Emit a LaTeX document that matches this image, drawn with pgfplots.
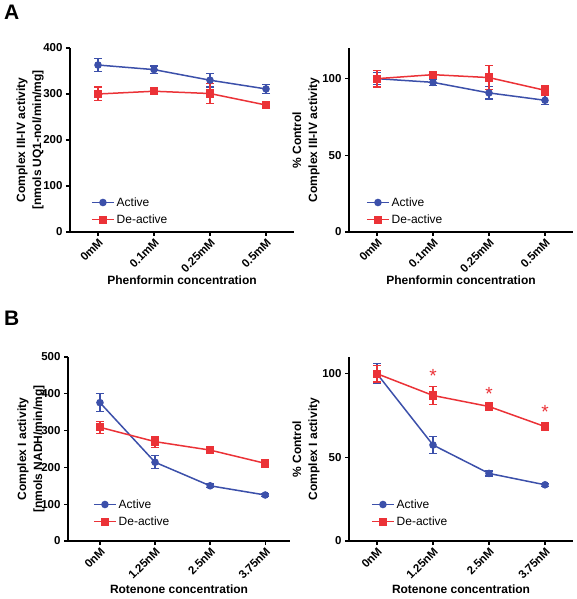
\documentclass[border=0pt]{standalone}
\usepackage{fontspec}
\setmainfont{Liberation Sans}
\usepackage{pgfplots}
\pgfplotsset{compat=1.18}
\definecolor{cblue}{RGB}{60,80,170}
\definecolor{cred}{RGB}{235,50,55}
\pgfplotsset{
  myaxis/.style={
    scale only axis,
    width=224pt, height=184pt,
    axis lines=left,
    axis line style={-, line width=1.3pt},
    xmin=-0.5, xmax=3.5,
    ymin=0,
    xtick={0,1,2,3},
    tick align=outside,
    major tick length=4pt,
    tick style={line width=1.3pt, black},
    /pgf/number format/assume math mode=true,
    ticklabel style={font=\bfseries\fontsize{11.5}{12}\selectfont},
    x tick label style={rotate=45, anchor=north east, inner sep=1pt},
    label style={font=\bfseries\fontsize{12}{16}\selectfont},
    xlabel style={at={(axis description cs:0.5,0)}, anchor=center, yshift=-48pt},
    ylabel style={at={(axis description cs:0,0.5)}, anchor=center, align=center},
    legend style={draw=none, fill=none, font=\fontsize{12}{14}\selectfont,
      at={(axis description cs:0,0)}, anchor=south west, row sep=3pt},
    legend cell align=left,
    legend image code/.code={\draw[mark repeat=2,mark phase=2,##1] plot coordinates {(0pt,0pt) (11pt,0pt) (22pt,0pt)};},
  },
  act/.style={color=cblue, line width=1.5pt, mark=*, mark size=3pt, mark options={solid},
    error bars/.cd, y dir=both, y explicit, error bar style={line width=1.2pt},
    error mark options={rotate=90, line width=1.2pt, mark size=4pt, cblue}},
  deact/.style={color=cred, line width=1.5pt, mark=square*, mark size=3.4pt, mark options={solid},
    error bars/.cd, y dir=both, y explicit, error bar style={line width=1.2pt},
    error mark options={rotate=90, line width=1.2pt, mark size=4pt, cred}},
}
\begin{document}
\begin{tikzpicture}[x=1pt,y=1pt]
\path[use as bounding box] (0,0) rectangle (576,599);
\node[anchor=north west, inner sep=0pt, font=\bfseries\fontsize{21}{21}\selectfont] at (4pt,594pt) {A};
\node[anchor=north west, inner sep=0pt, font=\bfseries\fontsize{21}{21}\selectfont] at (4pt,288pt) {B};

% A left
\begin{axis}[myaxis, at={(70pt,367pt)}, anchor=south west,
  ymax=400, ytick={0,100,200,300,400},
  xticklabels={0mM,0.1mM,0.25mM,0.5mM},
  xlabel={Phenformin concentration},
  ylabel={Complex III-IV activity\\{[}nmols UQ1-nol/min/mg{]}},
  ylabel style={yshift=40pt},
  legend style={xshift=18pt, yshift=3pt}]
\addplot+[act] coordinates {(0,363) +- (0,14) (1,353) +- (0,8) (2,330) +- (0,15) (3,311) +- (0,10)};
\addlegendentry{Active}
\addplot+[deact] coordinates {(0,300) +- (0,15) (1,306) +- (0,6) (2,301) +- (0,22) (3,276) +- (0,8)};
\addlegendentry{De-active}
\end{axis}

% A right
\begin{axis}[myaxis, at={(349pt,367pt)}, anchor=south west,
  ymax=120, ytick={0,50,100},
  xticklabels={0mM,0.1mM,0.25mM,0.5mM},
  xlabel={Phenformin concentration},
  ylabel={\% Control\\Complex III-IV activity},
  ylabel style={yshift=43pt},
  legend style={xshift=14pt, yshift=3pt}]
\addplot+[act] coordinates {(0,100) +- (0,4) (1,97.6) +- (0,2) (2,90.7) +- (0,4) (3,85.9) +- (0,3)};
\addlegendentry{Active}
\addplot+[deact] coordinates {(0,100) +- (0,5.5) (1,102.6) +- (0,2) (2,100.7) +- (0,8) (3,92.4) +- (0,3)};
\addlegendentry{De-active}
\end{axis}

% B left
\begin{axis}[myaxis, at={(68pt,58pt)}, anchor=south west, width=222pt,
  xmin=-0.58, xmax=3.45,
  ymax=500, ytick={0,100,200,300,400,500},
  xticklabels={0nM,1.25nM,2.5nM,3.75nM},
  xlabel={Rotenone concentration},
  ylabel={Complex I activity\\{[}nmols NADH/min/mg{]}},
  ylabel style={yshift=37pt},
  legend style={xshift=22pt, yshift=10pt}]
\addplot+[act] coordinates {(0,376) +- (0,24) (1,214) +- (0,18) (2,150) +- (0,5) (3,125) +- (0,4)};
\addlegendentry{Active}
\addplot+[deact] coordinates {(0,309) +- (0,16) (1,270) +- (0,15) (2,247) +- (0,8) (3,211) +- (0,4)};
\addlegendentry{De-active}
\end{axis}

% B right
\begin{axis}[myaxis, at={(349pt,58pt)}, anchor=south west,
  ymax=110, ytick={0,50,100},
  xticklabels={0nM,1.25nM,2.5nM,3.75nM},
  xlabel={Rotenone concentration},
  ylabel={\% Control\\Complex I activity},
  ylabel style={yshift=43pt},
  legend style={xshift=19pt, yshift=10pt}]
\addplot+[act] coordinates {(0,100) +- (0,6) (1,57.4) +- (0,5) (2,40.4) +- (0,1.5) (3,33.6) +- (0,1)};
\addlegendentry{Active}
\addplot+[deact] coordinates {(0,100) +- (0,5) (1,87) +- (0,5.2) (2,80.4) +- (0,2) (3,68.4) +- (0,1)};
\addlegendentry{De-active}
\addplot[draw=none, mark=none, forget plot, nodes near coords={*},
  nodes near coords style={anchor=center, text=cred, yshift=-4pt, font=\fontsize{19}{19}\selectfont}]
  coordinates {(1,101) (2,90.4) (3,79.6)};
\end{axis}
\end{tikzpicture}
\end{document}
